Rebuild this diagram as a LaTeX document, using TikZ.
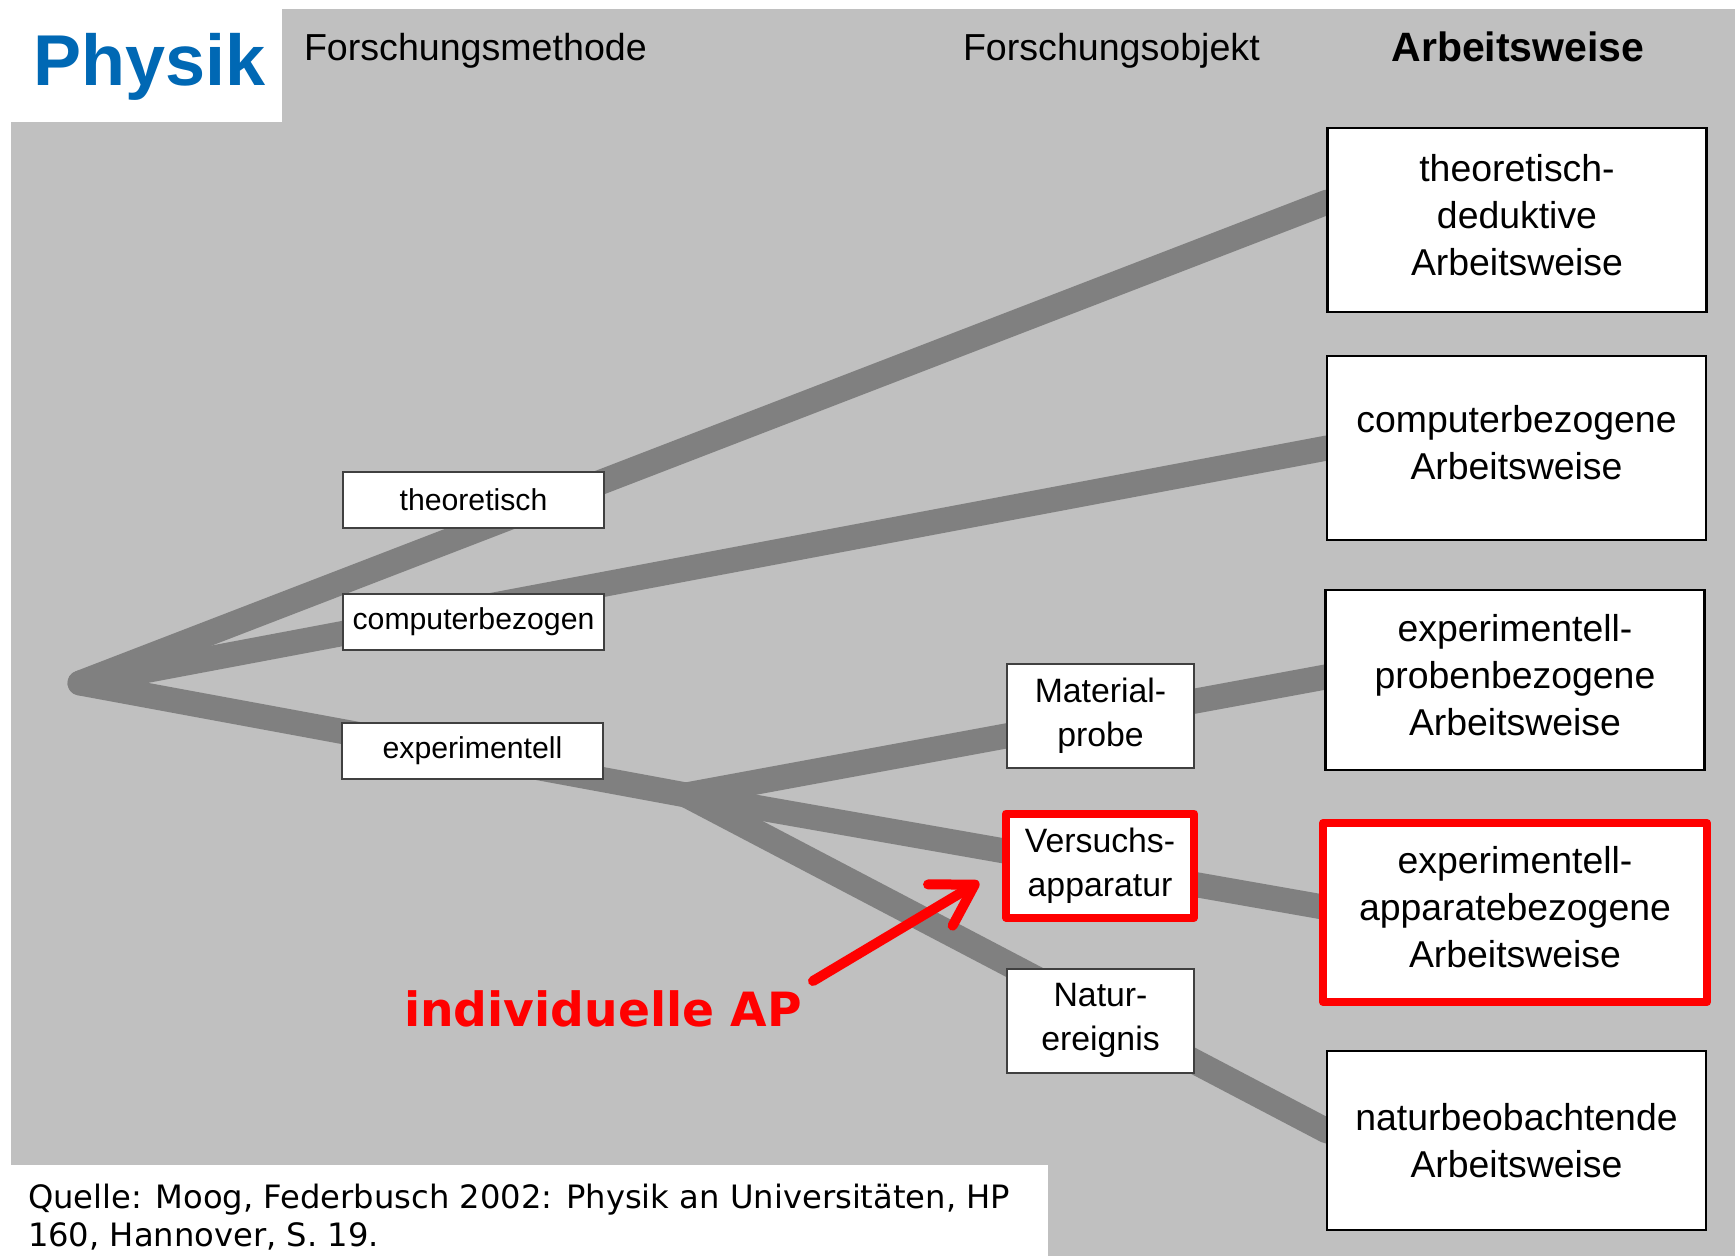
\documentclass[tikz,border=0pt]{standalone}
\usepackage{fontspec}
\setmainfont{Liberation Sans}
\newfontfamily\verd{DejaVu Sans}
\usetikzlibrary{arrows.meta,calc}
\pgfdeclarelayer{bg}
\pgfdeclarelayer{links}
\pgfsetlayers{bg,links,main}

\definecolor{panel}{HTML}{C0C0C0}
\definecolor{branch}{HTML}{808080}
\definecolor{physblue}{HTML}{0068B4}
\definecolor{hlred}{HTML}{FF0000}

% extra depth below the last line, lifts the text block a little
\newcommand\boxlift{\rule[-5.5pt]{0pt}{0pt}}

\begin{document}
\begin{tikzpicture}[x=0.5pt,y=-0.5pt,
  every node/.style={inner sep=0pt, outer sep=0pt},
  method/.style={draw=black!75, line width=1pt, fill=white,
    minimum width=130.5pt, minimum height=28pt,
    font=\fontsize{15.1}{18}\selectfont},
  object/.style={draw=black!75, line width=1pt, fill=white,
    minimum width=93.5pt, minimum height=52pt, align=center,
    font=\fontsize{16.9}{21.8}\selectfont},
  mode/.style={draw=black, line width=1.1pt, fill=white,
    minimum width=189.5pt, minimum height=90pt, align=center,
    font=\fontsize{18.7}{23.5}\selectfont},
  marked/.style={draw=hlred, line width=4pt, line join=round},
  link/.style={draw=branch, line width=12.5pt, line cap=round, line join=round},
  head/.style={anchor=base west, font=\fontsize{18.8}{22}\selectfont},
]
\useasboundingbox (0,0) rectangle (1735,1256);

% panel and white corner fields
\begin{pgfonlayer}{bg}
  \fill[white] (0,0) rectangle (1735,1256);
  \fill[panel] (11,9) rectangle (1735,1256);
  \fill[white] (0,0) rectangle (282,122);
  \fill[white] (11,1165) rectangle (1048,1256);
\end{pgfonlayer}

% title and column headings
\node[anchor=base west, text=physblue, font=\fontsize{36}{40}\selectfont\bfseries] (ph) at (33,86) {Physik};
\node[head] (hm) at (304,61) {Forschungsmethode};
\node[head] (ho) at (963,61) {Forschungsobjekt};
\node[anchor=base, font=\fontsize{20.5}{24}\selectfont\bfseries] (hw) at (1518,62) {Arbeitsweise};

% research methods
\node[method] (th) at (473.5,500) {theoretisch};
\node[method] (cb) at (473.5,622) {computerbezogen};
\node[method] (ex) at (472.5,750.5) {experimentell};

% research objects
\node[object] (mp) at (1100.5,716) {Material-\\probe};
\node[object, marked, minimum width=94pt] (va) at (1100,865.5) {Versuchs-\\apparatur};
\node[object] (ne) at (1100.5,1020.5) {Natur-\\ereignis};

% working modes
\node[mode, minimum height=92pt] (aw1) at (1517,220) {theoretisch-\\deduktive\\Arbeitsweise\boxlift};
\node[mode, minimum height=92pt] (aw2) at (1516.5,448) {computerbezogene\\Arbeitsweise\boxlift};
\node[mode] (aw3) at (1515,680) {experimentell-\\probenbezogene\\Arbeitsweise\boxlift};
\node[mode, marked, minimum width=192pt, minimum height=89.5pt] (aw4) at (1515,912.5) {experimentell-\\apparatebezogene\\Arbeitsweise\boxlift};
\node[mode, minimum height=89.5pt] (aw5) at (1516.5,1140.5) {naturbeobachtende\\Arbeitsweise};

% branching tree behind the boxes
\coordinate (root) at (80,683);
\coordinate (fork) at (686,795);
\begin{pgfonlayer}{links}
  \draw[link] ([yshift=9pt]aw1.west) -- (root) -- (fork);
  \draw[link] (root) -- (aw2.west);
  \draw[link] (fork) -- ([yshift=1.5pt]aw3.west);
  \draw[link] (fork) -- ([yshift=2.75pt]aw4.west);
  \draw[link] (fork) -- ([yshift=4.75pt]aw5.west);
\end{pgfonlayer}

% highlight label with arrow
\node[anchor=base west, text=hlred, font=\verd\fontsize{23.6}{28}\selectfont\bfseries] (ap) at (404,1026) {individuelle AP};
\coordinate (tail) at (813,981);
\coordinate (tip) at (979,882);
\draw[hlred, line width=5pt, line cap=round,
  -{Straight Barb[length=20pt,width=24pt,round]}] (tail) -- (tip);

% source (anchored at the baseline of its last line)
\node[anchor=base west, align=left, font=\verd\fontsize{16.1}{18.8}\selectfont] (src) at (28,1246.5)
  {Quelle: Moog, Federbusch 2002: Physik an Universitäten, HP\\160, Hannover, S. 19.};
\end{tikzpicture}
\end{document}
